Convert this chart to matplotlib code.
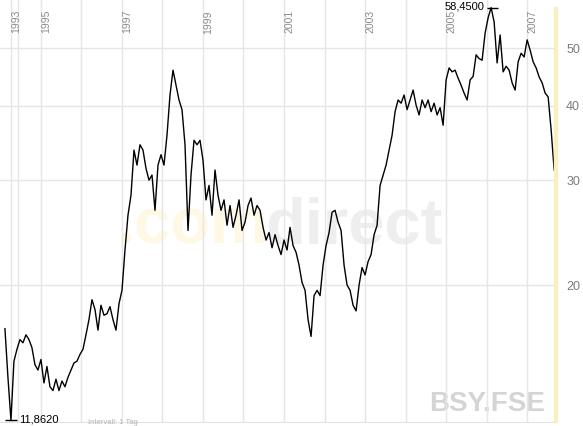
import numpy as np
import matplotlib.pyplot as plt
from matplotlib.ticker import NullLocator, NullFormatter

plt.rcParams['font.family'] = ['Liberation Sans', 'DejaVu Sans']

# daily closes (evenly spaced samples)
prices = [
    16.9, 14.0, 11.862, 14.9, 15.6, 16.2, 16.0, 16.5, 16.2, 15.7,
    14.7, 14.4, 15.0, 13.7, 14.6, 13.5, 13.3, 13.9, 13.3, 13.8,
    13.5, 14.0, 14.4, 14.8, 14.9, 15.3, 15.6, 16.5, 17.5, 18.9,
    18.2, 16.8, 18.5, 17.8, 17.9, 18.4, 17.5, 16.8, 18.6, 19.6,
    22.9, 26.2, 28.3, 33.7, 31.8, 34.4, 33.7, 31.4, 30.0, 30.6,
    26.7, 31.8, 33.1, 31.8, 35.7, 41.7, 45.9, 43.3, 40.9, 39.4,
    34.4, 24.7, 30.6, 35.0, 34.4, 35.0, 32.4, 27.8, 29.4, 26.2,
    31.2, 28.3, 26.7, 27.8, 25.2, 27.2, 25.0, 26.2, 27.8, 24.7,
    25.5, 27.2, 28.0, 26.2, 27.2, 26.7, 25.0, 23.8, 24.5, 23.1,
    24.3, 23.3, 22.5, 23.8, 22.9, 25.0, 23.3, 22.7, 21.6, 20.2,
    19.6, 17.5, 16.4, 19.2, 19.6, 19.2, 21.6, 23.3, 24.5, 26.5,
    26.7, 25.5, 24.7, 21.6, 20.0, 19.6, 18.5, 18.1, 20.0, 21.4,
    20.8, 21.9, 22.5, 24.3, 25.2, 29.4, 30.6, 31.8, 33.7, 35.7,
    39.1, 40.9, 40.4, 41.7, 39.4, 40.9, 42.5, 40.1, 38.6, 40.9,
    39.7, 40.9, 39.1, 40.4, 38.6, 39.7, 37.1, 44.2, 46.3, 45.6,
    45.9, 44.5, 43.3, 42.0, 40.9, 44.2, 44.8, 48.7, 48.0, 47.7,
    53.0, 56.2, 58.45, 55.3, 47.2, 52.6, 45.6, 46.6, 45.9, 43.7,
    42.5, 47.4, 49.0, 48.3, 51.6, 49.6, 47.4, 46.3, 44.7, 43.7,
    42.0, 41.4, 36.4, 31.2,
]
first_day = 1994.11
last_day = 2007.67
last_bar = [33.9, 38.9]

grid_years = [1994.26, 1994.43, 1995, 1996, 1997, 1998, 1999, 2000, 2001,
              2002, 2003, 2004, 2005, 2006, 2007]
label_years = [1994.26, 1995, 1997, 1999, 2001, 2003, 2005, 2007]
label_text = ['1993', '1995', '1997', '1999', '2001', '2003', '2005', '2007']
y_ticks = [20, 30, 40, 50]

days = np.linspace(first_day, last_day, len(prices))
prices = np.array(prices)

W, H = 583, 426
fig = plt.figure(figsize=(W / 100, H / 100), dpi=100)
fig.patch.set_facecolor('white')

ax = fig.add_axes([0, 4 / H, 555 / W, 422 / H])
ax.set_yscale('log')
ax.set_ylim(11.78, 60.2)
ax.set_xlim(1993.988, 2007.691)

# watermark, behind grid and price line
ft = fig.transFigure
ax.text(117 / W, 1 - 243 / H, '.com', transform=ft, fontsize=47, fontweight='bold',
        color='#fef8e4', va='baseline', ha='left', zorder=0.5)
ax.text(265 / W, 1 - 243 / H, 'direct', transform=ft, fontsize=47, fontweight='bold',
        color='#eeeeee', va='baseline', ha='left', zorder=0.5)
ax.text(545 / W, 1 - 411 / H, 'BSY.FSE', transform=ft, fontsize=20, fontweight='bold',
        color='#d4d4d4', va='baseline', ha='right', zorder=0.5)

grid_col = '#e7e4ea'
for g in grid_years:
    ax.axvline(g, color=grid_col, lw=1, zorder=1)
for t in y_ticks:
    ax.axhline(t, color=grid_col, lw=1, zorder=1)

ax.plot(days, prices, color='black', lw=1.0, zorder=3)
ax.vlines(last_day + 0.025, last_bar[0], last_bar[1], color='#a8943c', lw=1, zorder=3)

# high / low markers
px = 1 / 40.5
i_hi = int(np.argmax(prices))
i_lo = int(np.argmin(prices))
ax.hlines(prices[i_hi], days[i_hi] - 4 * px, days[i_hi] + 7 * px, color='black', lw=1, zorder=4)
ax.hlines(prices[i_lo], days[i_lo] - 6 * px, days[i_lo] + 6 * px, color='black', lw=1, zorder=4)
ax.annotate('58,4500', xy=(days[i_hi], prices[i_hi]), xytext=(-7, 1),
            textcoords='offset pixels', ha='right', va='center', fontsize=8, color='black')
ax.annotate('11,8620', xy=(days[i_lo], prices[i_lo]), xytext=(8, 1),
            textcoords='offset pixels', ha='left', va='center', fontsize=8, color='black')

for yr, lab in zip(label_years, label_text):
    ax.annotate(lab, xy=(yr, 1), xycoords=('data', 'axes fraction'), xytext=(5, -10),
                textcoords='offset pixels', rotation=90, ha='center', va='top',
                fontsize=7.5, color='#8a8a8a')

ax.set_xticks([])
ax.yaxis.tick_right()
ax.set_yticks(y_ticks)
ax.set_yticklabels([str(t) for t in y_ticks])
ax.yaxis.set_minor_locator(NullLocator())
ax.yaxis.set_minor_formatter(NullFormatter())
ax.tick_params(axis='y', length=0, pad=8, labelsize=9, labelcolor='#7c7c7c')
for s in ['top', 'left', 'right']:
    ax.spines[s].set_visible(False)
ax.spines['bottom'].set_color('#e2e2e2')

# yellow bar at the right edge
fig.patches.append(plt.Rectangle((553.5 / W, 4 / H), 3.5 / W, 415 / H,
                                 transform=fig.transFigure, color='#fbeec2', zorder=2))

fig.text(88 / W, 0, 'Intervall: 1 Tag', fontsize=5.5, color='#b4b4b4',
         va='bottom', ha='left')

fig.savefig('out.png', dpi=100)
